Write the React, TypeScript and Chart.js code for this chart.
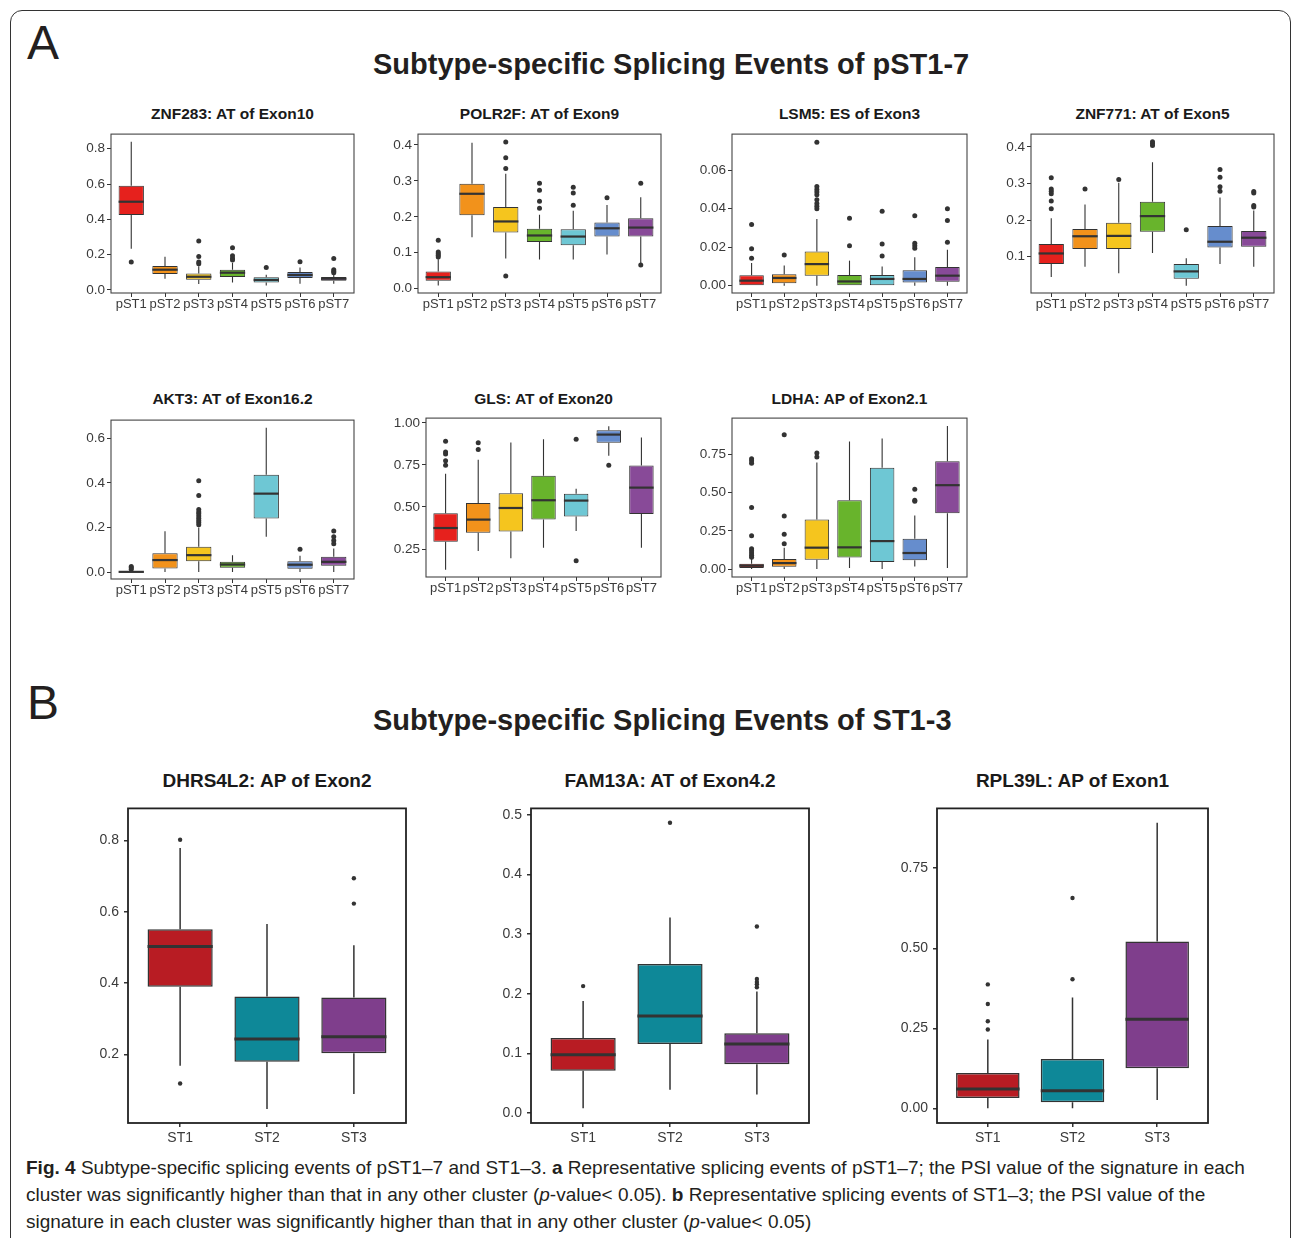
import React, { useEffect, useRef } from 'react';
import { Chart, registerables } from 'chart.js';
Chart.register(...registerables);

// ---------- categories & colours ----------
const pstLabels = ['pST1', 'pST2', 'pST3', 'pST4', 'pST5', 'pST6', 'pST7'];
const stLabels = ['ST1', 'ST2', 'ST3'];
const pstColors = ['#E6211D', '#F2921B', '#F5C51E', '#68B42C', '#6EC7D4', '#668DCD', '#884A98'];
const stColors = ['#B81C23', '#0E8898', '#7F3E8C'];

// ---------- box statistics: [lower whisker, Q1, median, Q3, upper whisker] ----------
const znf283Stats = [
  [0.234, 0.425, 0.5, 0.59, 0.84],
  [0.064, 0.09, 0.115, 0.136, 0.189],
  [0.034, 0.058, 0.075, 0.094, 0.135],
  [0.043, 0.074, 0.098, 0.115, 0.155],
  [0.026, 0.043, 0.057, 0.072, 0.087],
  [0.036, 0.068, 0.085, 0.102, 0.128],
  [0.036, 0.053, 0.064, 0.074, 0.085],
];
const znf283Outliers = [[0.158], [], [0.277, 0.19, 0.158, 0.149], [0.24, 0.194, 0.18, 0.17], [0.128], [0.16], [0.179, 0.115, 0.106, 0.098]];

const polr2fStats = [
  [0.009, 0.022, 0.032, 0.048, 0.082],
  [0.143, 0.204, 0.264, 0.292, 0.406],
  [0.084, 0.156, 0.187, 0.227, 0.32],
  [0.081, 0.13, 0.148, 0.167, 0.206],
  [0.081, 0.121, 0.145, 0.165, 0.217],
  [0.095, 0.145, 0.168, 0.184, 0.233],
  [0.069, 0.145, 0.17, 0.196, 0.254],
];
const polr2fOutliers = [[0.135, 0.102, 0.097, 0.093, 0.088], [], [0.408, 0.364, 0.334, 0.035], [0.293, 0.274, 0.243, 0.224], [0.282, 0.266, 0.232], [0.253], [0.293, 0.066]];

const lsm5Stats = [
  [0, 0, 0.0026, 0.0054, 0.0118],
  [0, 0.0012, 0.004, 0.0059, 0.0105],
  [0, 0.0052, 0.0112, 0.0178, 0.0346],
  [0, 0, 0.0022, 0.0055, 0.013],
  [0, 0, 0.0035, 0.0055, 0.01],
  [0, 0.0016, 0.0035, 0.008, 0.0147],
  [0, 0.0021, 0.0052, 0.0097, 0.0187],
];
const lsm5Outliers = [[0.0318, 0.0192, 0.0142], [0.0159], [0.0745, 0.0515, 0.05, 0.0486, 0.0472, 0.0446, 0.0427, 0.0412, 0.04], [0.035, 0.0207], [0.0387, 0.0216, 0.0154], [0.0363, 0.022, 0.0207, 0.0194], [0.04, 0.0339, 0.0225]];

const znf771Stats = [
  [0.045, 0.08, 0.109, 0.1346, 0.205],
  [0.073, 0.121, 0.156, 0.176, 0.243],
  [0.055, 0.121, 0.157, 0.193, 0.302],
  [0.11, 0.168, 0.211, 0.25, 0.358],
  [0.021, 0.04, 0.06, 0.08, 0.096],
  [0.08, 0.125, 0.141, 0.184, 0.262],
  [0.073, 0.127, 0.152, 0.17, 0.226],
];
const znf771Outliers = [[0.316, 0.285, 0.279, 0.272, 0.252, 0.231], [0.285], [0.311], [0.414, 0.409, 0.404], [0.174], [0.338, 0.317, 0.291, 0.279], [0.278, 0.274, 0.24, 0.236]];

const akt3Stats = [
  [0, 0, 0.001, 0.004, 0.008],
  [0, 0.016, 0.054, 0.084, 0.183],
  [0, 0.049, 0.076, 0.114, 0.2],
  [0, 0.019, 0.034, 0.046, 0.076],
  [0.159, 0.241, 0.352, 0.437, 0.648],
  [0, 0.015, 0.033, 0.049, 0.073],
  [0, 0.028, 0.046, 0.069, 0.106],
];
const akt3Outliers = [[0.025, 0.019, 0.013], [], [0.41, 0.344, 0.281, 0.27, 0.262, 0.252, 0.242, 0.232, 0.222, 0.212], [], [], [0.103], [0.184, 0.159, 0.142, 0.127]];

const glsStats = [
  [0.127, 0.294, 0.375, 0.462, 0.698],
  [0.238, 0.347, 0.425, 0.524, 0.78],
  [0.196, 0.355, 0.494, 0.581, 0.883],
  [0.258, 0.425, 0.54, 0.685, 0.903],
  [0.357, 0.444, 0.538, 0.579, 0.609],
  [0.804, 0.881, 0.93, 0.956, 0.98],
  [0.258, 0.458, 0.615, 0.746, 0.913],
];
const glsOutliers = [[0.891, 0.827, 0.815, 0.774, 0.748], [0.881, 0.841], [], [], [0.903, 0.18], [0.748], []];

const ldhaStats = [
  [0, 0.007, 0.022, 0.035, 0.072],
  [0, 0.015, 0.039, 0.065, 0.14],
  [0, 0.061, 0.14, 0.325, 0.698],
  [0.007, 0.076, 0.142, 0.451, 0.835],
  [0, 0.046, 0.183, 0.663, 0.855],
  [0.017, 0.057, 0.105, 0.198, 0.351],
  [0.007, 0.366, 0.549, 0.706, 0.937],
];
const ldhaOutliers = [[0.722, 0.709, 0.693, 0.403, 0.218, 0.133, 0.12, 0.105, 0.09, 0.078], [0.879, 0.347, 0.227, 0.166], [0.759, 0.733], [], [], [0.523, 0.451, 0.443], []];

const dhrs4l2Stats = [
  [0.169, 0.39, 0.503, 0.551, 0.779],
  [0.048, 0.18, 0.244, 0.363, 0.566],
  [0.09, 0.204, 0.25, 0.36, 0.506],
];
const dhrs4l2Outliers = [[0.802, 0.119], [], [0.694, 0.623]];

const fam13aStats = [
  [0.008, 0.071, 0.098, 0.126, 0.188],
  [0.039, 0.116, 0.163, 0.25, 0.328],
  [0.031, 0.082, 0.116, 0.134, 0.204],
];
const fam13aOutliers = [[0.213], [0.487], [0.313, 0.225, 0.22, 0.216, 0.211]];

const rpl39lStats = [
  [0, 0.032, 0.06, 0.11, 0.215],
  [0, 0.019, 0.055, 0.154, 0.346],
  [0.026, 0.125, 0.278, 0.521, 0.892],
];
const rpl39lOutliers = [[0.387, 0.326, 0.272, 0.246], [0.657, 0.403], []];

// ---------- y tick labels ----------
const ticks08by02 = [0, 0.2, 0.4, 0.6, 0.8];
const ticks04by01 = [0, 0.1, 0.2, 0.3, 0.4];
const ticksLsm5 = [0, 0.02, 0.04, 0.06];
const ticksZnf771 = [0.1, 0.2, 0.3, 0.4];
const ticksAkt3 = [0, 0.2, 0.4, 0.6];
const ticksGls = [0.25, 0.5, 0.75, 1.0];
const ticksQuarter = [0, 0.25, 0.5, 0.75];
const ticksDhrs = [0.2, 0.4, 0.6, 0.8];
const ticksFam13a = [0, 0.1, 0.2, 0.3, 0.4, 0.5];

const FONT = "'Liberation Sans', Arial, Helvetica, sans-serif";
Chart.defaults.font.family = FONT;

interface PanelCfg {
  title: string;
  labels: string[];
  colors: string[];
  stats: number[][];
  outliers: number[][];
  ticks: number[];
  decimals: number;
  yMin: number;
  yMax: number;
  left: number;
  top: number;
  width: number;
  height: number;
  titleY: number;
  big: boolean;
}

const panels: PanelCfg[] = [
  { title: 'ZNF283: AT of Exon10', labels: pstLabels, colors: pstColors, stats: znf283Stats, outliers: znf283Outliers, ticks: ticks08by02, decimals: 1, yMin: -0.017, yMax: 0.883, left: 111, top: 134, width: 243, height: 159, titleY: 114, big: false },
  { title: 'POLR2F: AT of Exon9', labels: pstLabels, colors: pstColors, stats: polr2fStats, outliers: polr2fOutliers, ticks: ticks04by01, decimals: 1, yMin: -0.012, yMax: 0.43, left: 418, top: 134, width: 243, height: 159, titleY: 114, big: false },
  { title: 'LSM5: ES of Exon3', labels: pstLabels, colors: pstColors, stats: lsm5Stats, outliers: lsm5Outliers, ticks: ticksLsm5, decimals: 2, yMin: -0.0038, yMax: 0.0787, left: 732, top: 134, width: 235, height: 159, titleY: 114, big: false },
  { title: 'ZNF771: AT of Exon5', labels: pstLabels, colors: pstColors, stats: znf771Stats, outliers: znf771Outliers, ticks: ticksZnf771, decimals: 1, yMin: 0.001, yMax: 0.435, left: 1031, top: 134, width: 243, height: 159, titleY: 114, big: false },
  { title: 'AKT3: AT of Exon16.2', labels: pstLabels, colors: pstColors, stats: akt3Stats, outliers: akt3Outliers, ticks: ticksAkt3, decimals: 1, yMin: -0.031, yMax: 0.682, left: 111, top: 420, width: 243, height: 159, titleY: 399, big: false },
  { title: 'GLS: AT of Exon20', labels: pstLabels, colors: pstColors, stats: glsStats, outliers: glsOutliers, ticks: ticksGls, decimals: 2, yMin: 0.084, yMax: 1.028, left: 426, top: 418, width: 235, height: 159, titleY: 399, big: false },
  { title: 'LDHA: AP of Exon2.1', labels: pstLabels, colors: pstColors, stats: ldhaStats, outliers: ldhaOutliers, ticks: ticksQuarter, decimals: 2, yMin: -0.052, yMax: 0.988, left: 732, top: 418, width: 235, height: 159, titleY: 399, big: false },
  { title: 'DHRS4L2: AP of Exon2', labels: stLabels, colors: stColors, stats: dhrs4l2Stats, outliers: dhrs4l2Outliers, ticks: ticksDhrs, decimals: 1, yMin: 0.0085, yMax: 0.8896, left: 128, top: 805, width: 278, height: 318, titleY: 781, big: true },
  { title: 'FAM13A: AT of Exon4.2', labels: stLabels, colors: stColors, stats: fam13aStats, outliers: fam13aOutliers, ticks: ticksFam13a, decimals: 1, yMin: -0.0166, yMax: 0.511, left: 531, top: 805, width: 278, height: 318, titleY: 781, big: true },
  { title: 'RPL39L: AP of Exon1', labels: stLabels, colors: stColors, stats: rpl39lStats, outliers: rpl39lOutliers, ticks: ticksQuarter, decimals: 2, yMin: -0.046, yMax: 0.937, left: 937, top: 805, width: 271, height: 318, titleY: 781, big: true },
];

function BoxPanel({ cfg }: { cfg: PanelCfg }) {
  const ref = useRef<HTMLCanvasElement | null>(null);
  const big = cfg.big;
  const yW = big ? 64 : 50;
  const xH = big ? 30 : 24;
  const padT = 10;
  const padR = 10;
  const cw = yW + cfg.width + padR;
  const ch = padT + cfg.height + xH;
  const titleSize = big ? 19 : 15.5;

  useEffect(() => {
    if (!ref.current) return;
    const n = cfg.labels.length;
    const lineCol = '#333333';
    const textCol = '#3a3a3a';
    const yFont = { family: FONT, size: big ? 14 : 13.5 };
    const xFont = { family: FONT, size: big ? 14 : 13 };
    const outlierPts: { x: number; y: number }[] = [];
    cfg.outliers.forEach((arr, i) => arr.forEach((v) => outlierPts.push({ x: i, y: v })));

    const extras = {
      id: 'boxExtras',
      beforeDatasetsDraw(chart: any) {
        const { ctx } = chart;
        const x = chart.scales.x;
        const y = chart.scales.y;
        ctx.save();
        ctx.strokeStyle = lineCol;
        ctx.lineWidth = big ? 1.5 : 1.1;
        cfg.stats.forEach((s, i) => {
          const px = x.getPixelForValue(i);
          ctx.beginPath();
          ctx.moveTo(px, y.getPixelForValue(s[0]));
          ctx.lineTo(px, y.getPixelForValue(s[1]));
          ctx.moveTo(px, y.getPixelForValue(s[3]));
          ctx.lineTo(px, y.getPixelForValue(s[4]));
          ctx.stroke();
        });
        ctx.restore();
      },
      afterDatasetsDraw(chart: any) {
        const { ctx, chartArea } = chart;
        const y = chart.scales.y;
        const meta = chart.getDatasetMeta(1);
        ctx.save();
        ctx.strokeStyle = lineCol;
        ctx.lineWidth = big ? 3 : 2.2;
        cfg.stats.forEach((s, i) => {
          const el = meta.data[i];
          if (!el) return;
          const half = el.width / 2;
          const py = y.getPixelForValue(s[2]);
          ctx.beginPath();
          ctx.moveTo(el.x - half, py);
          ctx.lineTo(el.x + half, py);
          ctx.stroke();
        });
        ctx.strokeStyle = big ? '#222222' : '#444444';
        ctx.lineWidth = big ? 1.8 : 1.1;
        ctx.strokeRect(chartArea.left, chartArea.top, chartArea.right - chartArea.left, chartArea.bottom - chartArea.top);
        ctx.restore();
      },
    };

    const chart = new Chart(ref.current, {
      type: 'bar',
      data: {
        datasets: [
          {
            type: 'scatter',
            data: outlierPts,
            pointRadius: big ? 2.2 : 2.5,
            pointBackgroundColor: '#333333',
            pointBorderWidth: 0,
            order: 0,
          } as any,
          {
            type: 'bar',
            data: cfg.stats.map((s, i) => ({ x: i, y: [s[1], s[3]] })),
            backgroundColor: cfg.colors,
            borderColor: lineCol,
            borderWidth: big ? 1.5 : 1,
            borderSkipped: false,
            barPercentage: 0.75,
            categoryPercentage: 1,
            order: 1,
          } as any,
        ],
      },
      options: {
        responsive: false,
        animation: false,
        devicePixelRatio: 1,
        layout: { padding: { top: padT, right: padR, left: 0, bottom: 0 } },
        plugins: { legend: { display: false }, tooltip: { enabled: false }, title: { display: false } },
        scales: {
          x: {
            type: 'linear',
            min: -0.6,
            max: n - 0.4,
            offset: false,
            bounds: 'data',
            afterBuildTicks: (s: any) => {
              s.ticks = cfg.labels.map((_, i) => ({ value: i }));
            },
            afterFit: (s: any) => {
              s.height = xH;
            },
            ticks: {
              callback: (v: any) => cfg.labels[Math.round(Number(v))] ?? '',
              autoSkip: false,
              maxRotation: 0,
              minRotation: 0,
              padding: big ? 3 : 0,
              color: textCol,
              font: xFont,
            },
            grid: { display: true, drawOnChartArea: false, drawTicks: true, tickLength: 4, color: lineCol, lineWidth: big ? 1.5 : 1, offset: false },
            border: { display: false },
          } as any,
          y: {
            type: 'linear',
            min: cfg.yMin,
            max: cfg.yMax,
            beginAtZero: false,
            bounds: 'data',
            afterBuildTicks: (s: any) => {
              s.ticks = cfg.ticks.map((v) => ({ value: v }));
            },
            afterFit: (s: any) => {
              s.width = yW;
            },
            ticks: {
              callback: (v: any) => Number(v).toFixed(cfg.decimals),
              padding: big ? 5 : 2,
              color: textCol,
              font: yFont,
            },
            grid: { display: true, drawOnChartArea: false, drawTicks: true, tickLength: 4, color: lineCol, lineWidth: big ? 1.5 : 1 },
            border: { display: false },
          } as any,
        },
      },
      plugins: [extras as any],
    });
    return () => chart.destroy();
  }, []);

  return (
    <>
      <div
        style={{
          position: 'absolute',
          left: cfg.left + cfg.width / 2 - 200,
          width: 400,
          top: cfg.titleY - titleSize * 0.6,
          textAlign: 'center',
          fontFamily: FONT,
          fontWeight: 'bold',
          fontSize: titleSize,
          lineHeight: `${titleSize * 1.2}px`,
          color: '#1a1a1a',
          whiteSpace: 'nowrap',
        }}
      >
        {cfg.title}
      </div>
      <canvas
        ref={ref}
        width={cw}
        height={ch}
        style={{ position: 'absolute', left: cfg.left - yW, top: cfg.top - padT, width: cw, height: ch }}
      />
    </>
  );
}

export default function App() {
  const captionStyle: React.CSSProperties = {
    position: 'absolute',
    left: 26,
    fontFamily: FONT,
    fontSize: 19,
    lineHeight: '24px',
    color: '#231F20',
    whiteSpace: 'nowrap',
  };
  return (
    <div style={{ position: 'absolute', left: 0, top: 0, width: 1293, height: 1238, overflow: 'hidden', background: '#ffffff' }}>
      <div style={{ position: 'absolute', left: 10, top: 10, width: 1281, height: 1280, border: '1.5px solid #333', borderRadius: 12, boxSizing: 'border-box' }} />
      <div style={{ position: 'absolute', left: 27, top: 15, fontFamily: FONT, fontSize: 48, lineHeight: '56px', color: '#231F20' }}>A</div>
      <div style={{ position: 'absolute', left: 27, top: 675, fontFamily: FONT, fontSize: 48, lineHeight: '56px', color: '#231F20' }}>B</div>
      <div style={{ position: 'absolute', left: 373, top: 46, fontFamily: FONT, fontWeight: 'bold', fontSize: 29, lineHeight: '36px', color: '#231F20', whiteSpace: 'nowrap' }}>
        Subtype-specific Splicing Events of pST1-7
      </div>
      <div style={{ position: 'absolute', left: 373, top: 702, fontFamily: FONT, fontWeight: 'bold', fontSize: 29, lineHeight: '36px', color: '#231F20', whiteSpace: 'nowrap' }}>
        Subtype-specific Splicing Events of ST1-3
      </div>
      {panels.map((p) => (
        <BoxPanel key={p.title} cfg={p} />
      ))}
      <div style={{ ...captionStyle, top: 1156 }}>
        <b>Fig. 4</b> Subtype-specific splicing events of pST1–7 and ST1–3. <b>a</b> Representative splicing events of pST1–7; the PSI value of the signature in each
      </div>
      <div style={{ ...captionStyle, top: 1183 }}>
        cluster was significantly higher than that in any other cluster (<i>p</i>-value&lt; 0.05). <b>b</b> Representative splicing events of ST1–3; the PSI value of the
      </div>
      <div style={{ ...captionStyle, top: 1210 }}>
        signature in each cluster was significantly higher than that in any other cluster (<i>p</i>-value&lt; 0.05)
      </div>
    </div>
  );
}
